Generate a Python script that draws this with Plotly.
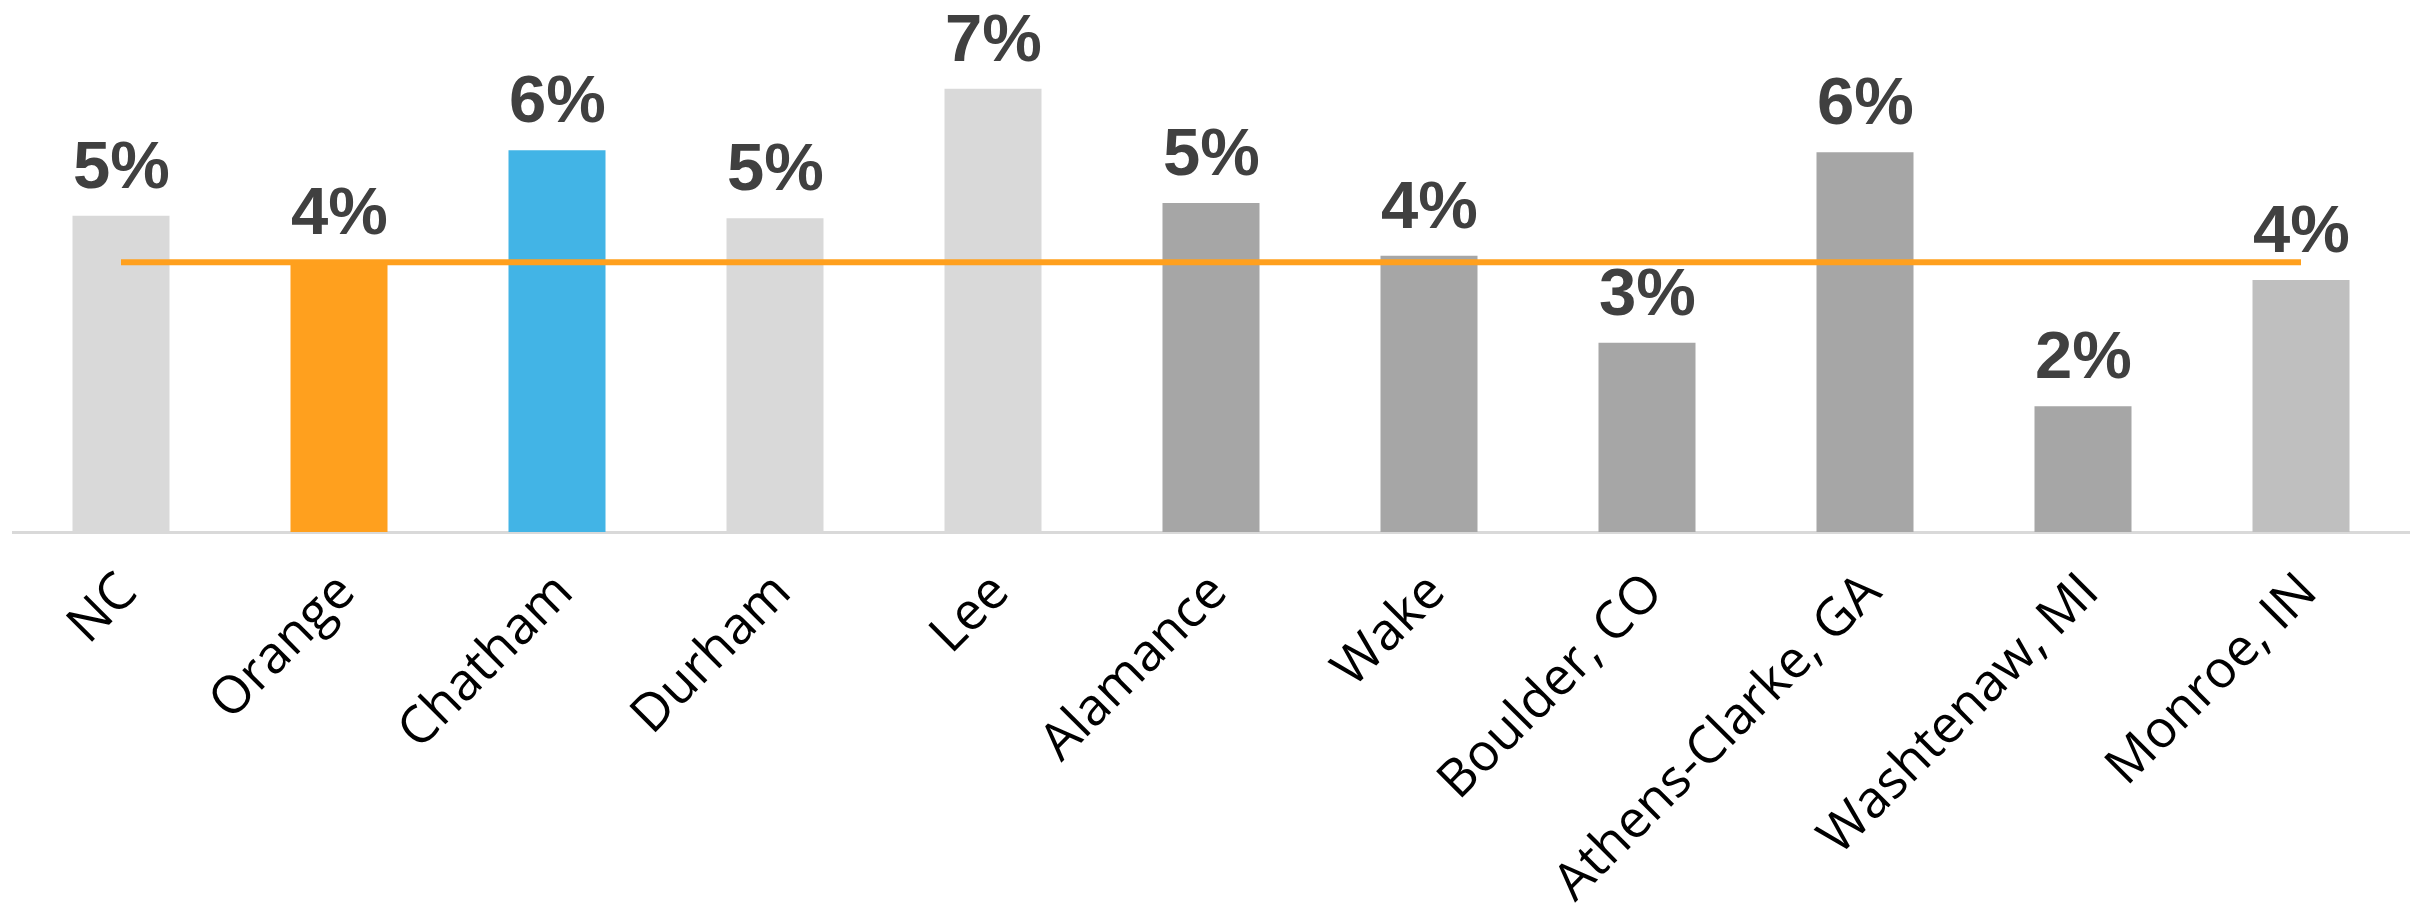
import plotly.graph_objects as go

categories = ["NC", "Orange", "Chatham", "Durham", "Lee", "Alamance", "Wake",
              "Boulder, CO", "Athens-Clarke, GA", "Washtenaw, MI", "Monroe, IN"]
values = [0.0498, 0.0425, 0.0601, 0.0494, 0.0698, 0.0518, 0.0435,
          0.0298, 0.0598, 0.0198, 0.0397]
labels = ["5%", "4%", "6%", "5%", "7%", "5%", "4%", "3%", "6%", "2%", "4%"]
bar_colors = ["#D9D9D9", "#FFA01E", "#42B4E6", "#D9D9D9", "#D9D9D9", "#A6A6A6",
              "#A6A6A6", "#A6A6A6", "#A6A6A6", "#A6A6A6", "#BFBFBF"]
reference_value = 0.0425  # Orange County reference line

fig = go.Figure()
fig.add_trace(go.Bar(
    x=categories, y=values, marker=dict(color=bar_colors, line=dict(width=0)),
    hoverinfo="skip", showlegend=False,
))
fig.add_trace(go.Scatter(
    x=categories, y=[reference_value] * len(categories), mode="lines",
    line=dict(color="#FFA01E", width=6), hoverinfo="skip", showlegend=False,
))

for c, v, t in zip(categories, values, labels):
    fig.add_annotation(
        x=c, y=v, text=t, showarrow=False, yanchor="bottom", yshift=12,
        font=dict(family="Liberation Sans", size=67, color="#404040", weight="bold"),
    )

fig.update_layout(
    width=2431, height=914,
    margin=dict(l=12, r=21, t=8, b=382),
    plot_bgcolor="white", paper_bgcolor="white",
    bargap=0.555,
    xaxis=dict(
        tickangle=-45, showgrid=False, zeroline=False, showline=False,
        ticks="", tickfont=dict(family="Open Sans", size=52, color="#000000"),
        range=[-0.5, 10.5], ticklabelstandoff=17, automargin=False,
    ),
    yaxis=dict(
        range=[0, 0.08252], showgrid=False, zeroline=True, zerolinecolor="#D9D9D9",
        zerolinewidth=3, showticklabels=False, ticks="", showline=False,
        automargin=False,
    ),
)
fig.write_html(
    "out.html",
    config={"displayModeBar": False},
    post_script="document.body.style.margin='0';document.body.style.overflow='hidden';",
)
